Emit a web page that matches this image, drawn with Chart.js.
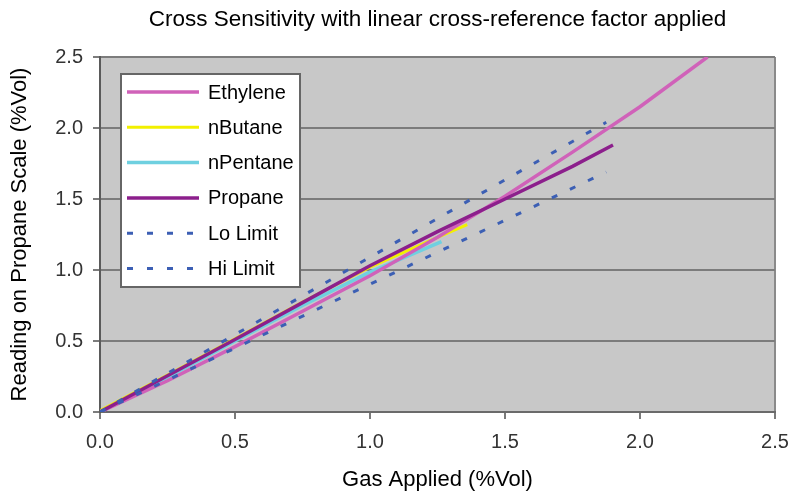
<!DOCTYPE html>
<html>
<head>
<meta charset="utf-8">
<script src="https://cdn.jsdelivr.net/npm/chart.js@4.4.1/dist/chart.umd.min.js"></script>
<style>
    html, body { margin: 0; padding: 0; background: #fff; }
    #wrap { width: 793px; height: 503px; position: relative; }
</style>
</head>
<body>
<div id="wrap"><canvas id="myChart"></canvas></div>
<script>
// values (gas applied -> reading, %Vol)
const ethyleneX = [0, 0.25, 0.5, 0.75, 1.0, 1.25, 1.5, 1.75, 2.0, 2.25];
const ethyleneY = [0, 0.22, 0.46, 0.71, 0.96, 1.23, 1.52, 1.83, 2.15, 2.5];

const butaneX = [0, 0.25, 0.5, 0.75, 1.0, 1.25, 1.36];
const butaneY = [0.01, 0.26, 0.515, 0.775, 1.02, 1.23, 1.32];

const pentaneX = [0, 0.25, 0.5, 0.75, 1.0, 1.265];
const pentaneY = [0, 0.245, 0.50, 0.75, 0.985, 1.20];

const propaneX = [0, 0.25, 0.5, 0.75, 1.0, 1.25, 1.5, 1.75, 1.9];
const propaneY = [0, 0.255, 0.51, 0.77, 1.03, 1.27, 1.50, 1.73, 1.88];

const limitX = [0, 0.5, 1.0, 1.5, 1.875];
const loLimitY = [0, 0.45, 0.90, 1.35, 1.69];
const hiLimitY = [0, 0.545, 1.09, 1.635, 2.04];

const tickValues = [0, 0.5, 1.0, 1.5, 2.0, 2.5];

const chartTitle = 'Cross Sensitivity with linear cross-reference factor applied';

const FONT = "'Liberation Sans', Arial, sans-serif";

function toPoints(xs, ys) {
    return xs.map((x, i) => ({ x: x, y: ys[i] }));
}

function lineSet(label, xs, ys, color, width, dash, order) {
    return {
        label: label,
        data: toPoints(xs, ys),
        borderColor: color,
        backgroundColor: color,
        borderWidth: width,
        borderDash: dash || [],
        pointRadius: 0,
        tension: 0,
        fill: false,
        order: order || 0
    };
}

// grey plot background, right border and the title centred over the plot
const plotBackground = {
    id: 'plotBackground',
    beforeDraw(chart) {
        const { ctx, chartArea: a } = chart;
        ctx.save();
        ctx.fillStyle = '#c8c8c8';
        ctx.fillRect(a.left, a.top, a.right - a.left, a.bottom - a.top);
        ctx.strokeStyle = '#8a8a8a';
        ctx.lineWidth = 2;
        ctx.beginPath();
        ctx.moveTo(a.right, a.top);
        ctx.lineTo(a.right, a.bottom);
        ctx.stroke();

        ctx.fillStyle = '#000';
        ctx.font = '22.5px ' + FONT;
        ctx.textAlign = 'center';
        ctx.textBaseline = 'middle';
        ctx.fillText(chartTitle, (a.left + a.right) / 2, 20);
        ctx.restore();
    }
};

// boxed legend inside the plot, top left
const boxLegend = {
    id: 'boxLegend',
    afterDatasetsDraw(chart) {
        const { ctx, chartArea: a } = chart;
        const left = a.left + 21;
        const top = a.top + 17;
        const w = 179;
        const h = 213;
        ctx.save();
        ctx.fillStyle = '#ffffff';
        ctx.fillRect(left, top, w, h);
        ctx.strokeStyle = '#666666';
        ctx.lineWidth = 2;
        ctx.strokeRect(left, top, w, h);
        ctx.font = '20px ' + FONT;
        ctx.textBaseline = 'middle';
        ctx.textAlign = 'left';
        chart.data.datasets.forEach((ds, i) => {
            const y = top + 18 + i * 35.3;
            ctx.strokeStyle = ds.borderColor;
            ctx.lineWidth = ds.borderWidth;
            ctx.setLineDash(ds.borderDash);
            ctx.beginPath();
            ctx.moveTo(left + 6, y);
            ctx.lineTo(left + 78, y);
            ctx.stroke();
            ctx.setLineDash([]);
            ctx.fillStyle = '#000';
            ctx.fillText(ds.label, left + 87, y + 1);
        });
        ctx.restore();
    }
};

const chartData = {
    datasets: [
        lineSet('Ethylene', ethyleneX, ethyleneY, '#d062b9', 3.5),
        lineSet('nButane', butaneX, butaneY, '#f2f000', 3),
        lineSet('nPentane', pentaneX, pentaneY, '#6fd0e0', 3.5),
        lineSet('Propane', propaneX, propaneY, '#8c1f8c', 3.5, null, -1),
        lineSet('Lo Limit', limitX, loLimitY, '#3c5fb4', 3, [6, 14], -2),
        lineSet('Hi Limit', limitX, hiLimitY, '#3c5fb4', 3, [6, 14], -2)
    ]
};

const config = {
    type: 'line',
    data: chartData,
    options: {
        responsive: true,
        maintainAspectRatio: false,
        animation: false,
        layout: {
            padding: { left: 0, right: 18, top: 57, bottom: 0 }
        },
        plugins: {
            legend: { display: false },
            tooltip: { enabled: false },
            title: { display: false }
        },
        scales: {
            x: {
                type: 'linear',
                min: 0,
                max: 2.5,
                afterBuildTicks: scale => {
                    scale.ticks = tickValues.map(v => ({ value: v }));
                },
                afterFit: scale => {
                    scale.height = 91;
                    scale.paddingLeft = 0;
                    scale.paddingRight = 0;
                },
                ticks: {
                    color: '#333',
                    padding: 11,
                    maxRotation: 0,
                    font: { family: FONT, size: 20 },
                    callback: v => v.toFixed(1)
                },
                grid: {
                    drawOnChartArea: false,
                    drawTicks: true,
                    tickLength: 7,
                    color: '#7a7a7a',
                    lineWidth: 2
                },
                border: { color: '#6a6a6a', width: 2 },
                title: {
                    display: true,
                    text: 'Gas Applied (%Vol)',
                    color: '#000',
                    font: { family: FONT, size: 22 },
                    padding: { top: 0, bottom: 10 }
                }
            },
            y: {
                type: 'linear',
                min: 0,
                max: 2.5,
                afterBuildTicks: scale => {
                    scale.ticks = tickValues.map(v => ({ value: v }));
                },
                afterFit: scale => {
                    scale.width = 100;
                    scale.paddingTop = 0;
                    scale.paddingBottom = 0;
                },
                ticks: {
                    color: '#333',
                    padding: 10,
                    font: { family: FONT, size: 20 },
                    callback: v => v.toFixed(1)
                },
                grid: {
                    color: '#7c7c7c',
                    lineWidth: 2,
                    tickLength: 7
                },
                border: { color: '#5a5a5a', width: 2 },
                title: {
                    display: true,
                    text: 'Reading on Propane Scale (%Vol)',
                    color: '#000',
                    font: { family: FONT, size: 22 },
                    padding: { top: 7, bottom: 0 }
                }
            }
        }
    },
    plugins: [plotBackground, boxLegend]
};

const ctx = document.getElementById('myChart').getContext('2d');

if (ctx) {
    new Chart(ctx, config);
}
</script>
</body>
</html>
